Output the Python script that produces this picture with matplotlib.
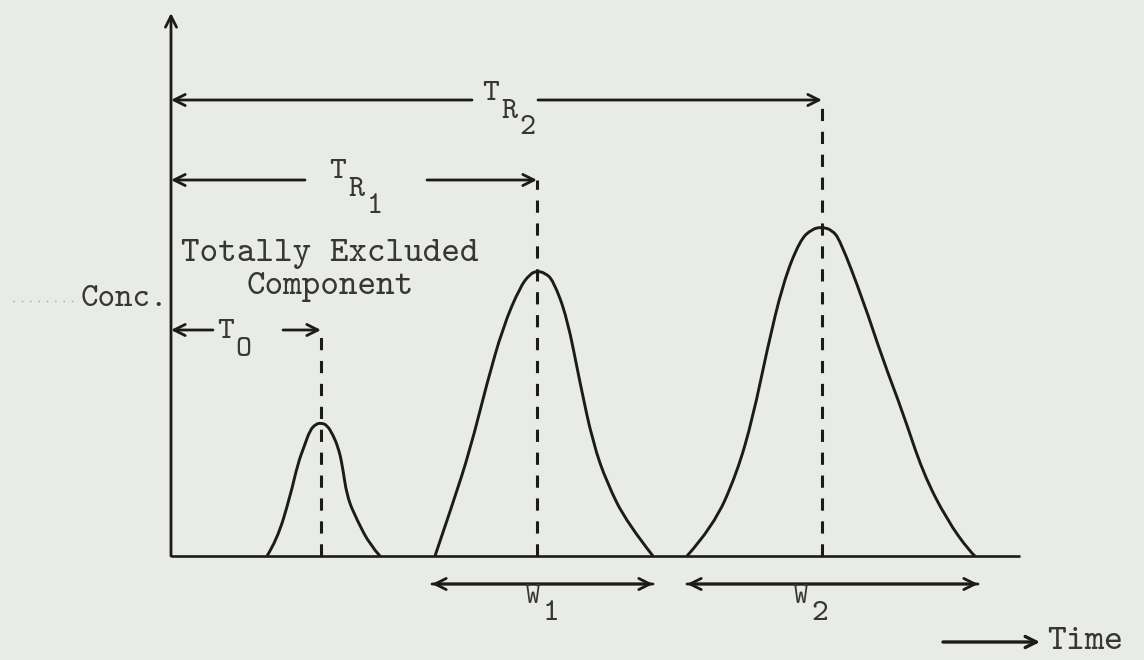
import matplotlib
matplotlib.use("Agg")
import matplotlib.pyplot as plt
from matplotlib.path import Path
from matplotlib.patches import PathPatch

# ---------------------------------------------------------------------------
# Chromatogram: time in arbitrary units, concentration in arbitrary units
# ---------------------------------------------------------------------------

# peak outlines (time, conc) traced point by point
peak0_t = [9.6, 10.6, 11.9, 12.7, 13.3, 13.9, 14.5, 15.0, 15.6, 16.2, 16.7, 17.1, 17.6, 18.6, 19.9, 20.9]
peak0_c = [0.0, 3.2, 11.8, 18.6, 21.8, 25.2, 26.4, 26.6, 26.2, 24.2, 21.8, 18.6, 11.8, 7.2, 2.2, 0.0]

peak1_t = [26.4, 28.2, 29.9, 31.6, 33.2, 34.9, 35.9, 36.6, 37.4, 38.2, 39.6, 40.9, 42.2, 43.6, 45.6, 48.2]
peak1_c = [0.0, 10.6, 21.2, 34.6, 45.8, 53.8, 56.4, 57.0, 56.6, 55.2, 47.8, 34.6, 22.6, 14.6, 6.6, 0.0]

peak2_t = [51.6, 54.2, 56.6, 58.2, 59.6, 61.2, 62.9, 64.1, 65.1, 66.1, 66.9, 69.2, 71.2, 73.2, 75.2, 77.6, 79.9, 80.4]
peak2_c = [0.0, 5.8, 16.6, 27.8, 41.2, 54.6, 63.2, 65.4, 65.8, 65.2, 63.2, 51.2, 39.2, 28.6, 16.6, 7.2, 0.8, 0.0]

# retention times T_O, T_R1, T_R2 and the level of each bracket arrow
ret_times = [15.0, 36.6, 65.1]
ret_levels = [45.2, 75.2, 91.2]
# gap left for the label on each retention arrow (start, end)
ret_gaps = [(4.2, 11.2), (13.4, 25.6), (30.1, 36.7)]
# label position: centre of the "T"
ret_label_t = [5.4, 16.7, 32.0]
ret_label_c = [44.8, 76.8, 92.4]
ret_sub = ["O", "R", "R"]
ret_subsub = ["", "1", "2"]

# peak widths W1, W2
width_start = [26.1, 51.6]
width_end = [48.2, 80.7]
width_label_t = [36.2, 63.0]
width_sub = ["1", "2"]

t_end = 84.9
c_top = 108.6

INK = "#1b1b1b"
TEXT = "#363636"
BG = "#e9ebe6"
FONT = "cmtt10"

fig = plt.figure(figsize=(11.44, 6.6), dpi=100, facecolor=BG)
ax = fig.add_axes([0, 0, 1, 1])
ax.set_facecolor(BG)
ax.set_xlim(-17.1, 97.3)
ax.set_ylim(-20.8, 111.2)
ax.axis("off")


def arrow(x0, y0, x1, y1, lw=2.0):
    ax.annotate("", xy=(x1, y1), xytext=(x0, y0),
                arrowprops=dict(arrowstyle="->,head_length=0.8,head_width=0.4",
                                lw=lw, color=INK, shrinkA=0, shrinkB=0))


def smooth_curve(xs, ys):
    # quadratic Bezier through midpoints, traced points act as control points
    pts = list(zip(xs, ys))
    verts = [pts[0]]
    codes = [Path.MOVETO]
    for i in range(1, len(pts) - 1):
        mid = ((pts[i][0] + pts[i + 1][0]) / 2, (pts[i][1] + pts[i + 1][1]) / 2)
        end = pts[i + 1] if i == len(pts) - 2 else mid
        verts += [pts[i], end]
        codes += [Path.CURVE3, Path.CURVE3]
    return Path(verts, codes)


# axes
arrow(0, 0, 0, c_top)
ax.plot([0, t_end], [0, 0], color=INK, lw=1.9, solid_capstyle="butt")

# peaks
for pt, pc in [(peak0_t, peak0_c), (peak1_t, peak1_c), (peak2_t, peak2_c)]:
    ax.add_patch(PathPatch(smooth_curve(pt, pc), fill=False, edgecolor=INK,
                           lw=2.1, joinstyle="round"))

# retention-time brackets with dashed drop lines
for rt, lvl, (g0, g1), lt, lc, s, ss in zip(ret_times, ret_levels, ret_gaps,
                                            ret_label_t, ret_label_c,
                                            ret_sub, ret_subsub):
    ax.plot([rt, rt], [0, lvl], color=INK, lw=2.2, dashes=(4, 3.5))
    arrow(g0, lvl, 0, lvl)
    arrow(g1, lvl, rt, lvl)
    ax.text(lt, lc, "T", fontsize=23, family=FONT, color=TEXT,
            ha="center", va="center")
    ax.text(lt + 1.85, lc - 3.7, s, fontsize=22, family=FONT, color=TEXT,
            ha="center", va="center")
    if ss:
        ax.text(lt + 3.65, lc - 6.9, ss, fontsize=22, family=FONT, color=TEXT,
                ha="center", va="center")

# width arrows
for w0, w1, wt, s in zip(width_start, width_end, width_label_t, width_sub):
    arrow(w0, -5.6, w1, -5.6)
    arrow(w1, -5.6, w0, -5.6)
    ax.text(wt, -8.2, "W", fontsize=22, family=FONT, color=TEXT,
            ha="center", va="center")
    ax.text(wt + 1.85, -11.6, s, fontsize=23, family=FONT, color=TEXT,
            ha="center", va="center")

# annotations
ax.text(15.9, 60.4, "Totally Excluded", fontsize=25.5, family=FONT, color=TEXT,
        ha="center", va="center")
ax.text(15.9, 53.8, "Component", fontsize=25.5, family=FONT, color=TEXT,
        ha="center", va="center")
ax.text(-0.3, 51.2, "Conc.", fontsize=24, family=FONT, color=TEXT,
        ha="right", va="center")
ax.plot([-15.8, -9.4], [51.0, 51.0], color="#a3a5a0", lw=1.0, ls=(0, (1, 5)))

arrow(77.2, -17.2, 86.9, -17.2, lw=2.4)
ax.text(87.6, -17.2, "Time", fontsize=26, family=FONT, color=TEXT,
        ha="left", va="center")

fig.savefig("out.png", dpi=100, facecolor=BG)
